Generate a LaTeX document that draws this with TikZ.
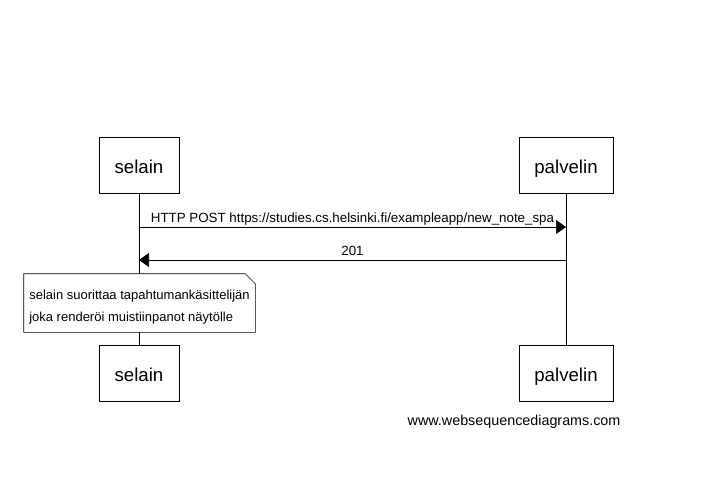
\documentclass[tikz,border=0pt]{standalone}
\usepackage{fontspec}
\setmainfont{Liberation Sans}
\usetikzlibrary{arrows.meta}
\tikzset{actor/.style = {draw, fill=white, minimum height=42pt,
                         text height=12pt, text depth=0pt,
                         font=\fontsize{14}{16}\selectfont},
         msg/.style = {-{Triangle[length=7.5pt, width=10.5pt]}},
         msglabel/.style = {anchor=base, yshift=3.2pt, inner sep=0pt,
                            font=\fontsize{10}{12}\selectfont}}

\begin{document}
\begin{tikzpicture}[x=0.75pt, y=-0.75pt]
    \useasboundingbox (0, 0) rectangle (702, 483);
    \node [actor, minimum width=60pt] (selaintop) at (139, 165) {selain};
    \node [actor, minimum width=70.5pt] (palvelintop) at (566, 165) {palvelin};
    \node [actor, minimum width=60pt] (selainbot) at (139, 373.5) {selain};
    \node [actor, minimum width=70.5pt] (palvelinbot) at (566, 373.5) {palvelin};
    \draw (selaintop) -- (selainbot);
    \draw (palvelintop) -- (palvelinbot);
    \coordinate (postfrom) at (139, 227);
    \coordinate (postto) at (566, 227);
    \coordinate (okfrom) at (566, 260);
    \coordinate (okto) at (139, 260);
    \draw [msg] (postfrom) -- (postto)
        node [msglabel, midway] {HTTP POST https://studies.cs.helsinki.fi/exampleapp/new\_note\_spa};
    \draw [msg] (okfrom) -- (okto) node [msglabel, midway] {201};
    % note with folded corner
    \node [fill=white, minimum width=173.25pt, minimum height=43.5pt] (note) at (139.5, 303) {};
    \draw (note.north west) -- ([xshift=-7.5pt]note.north east)
        -- ([yshift=-7.5pt]note.north east) -- (note.south east)
        -- (note.south west) -- cycle;
    \node [align=left, inner sep=0pt, font=\fontsize{9.75}{16.5}\selectfont]
        (notetext) at (139.5, 307) {selain suorittaa tapahtumankäsittelijän\\joka renderöi muistiinpanot näytölle};
    \node [anchor=west, font=\fontsize{10.75}{12}\selectfont] (credit) at (403, 422) {www.websequencediagrams.com};
\end{tikzpicture}
\end{document}
